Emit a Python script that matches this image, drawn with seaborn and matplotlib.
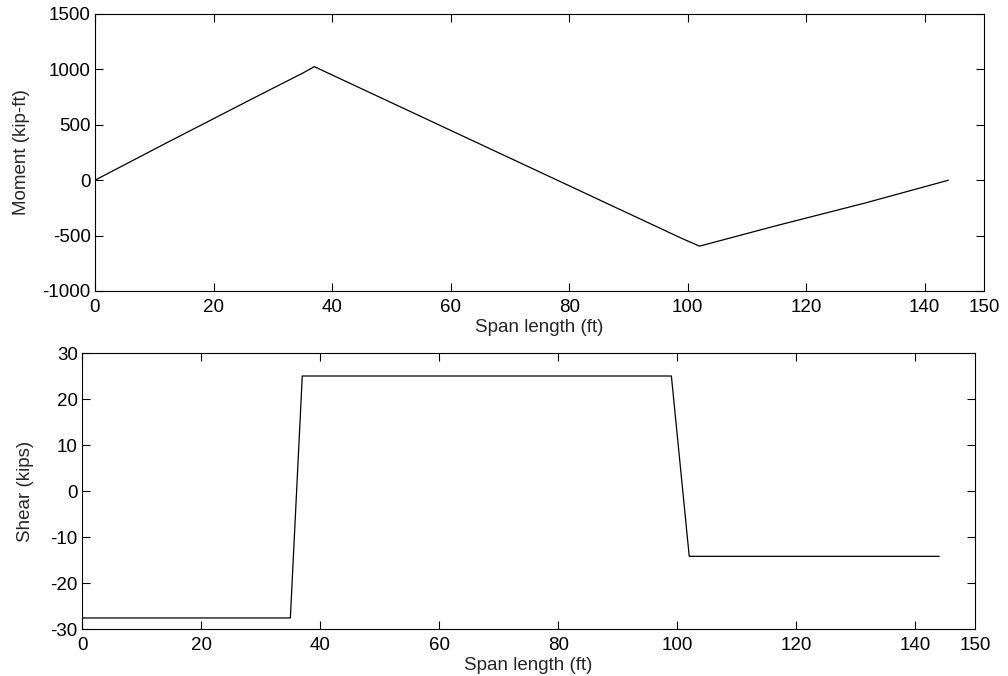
import matplotlib
matplotlib.use("Agg")
import matplotlib.pyplot as plt
import seaborn as sns
import pandas as pd

# moment diagram (kip-ft)
span_m = [0, 12, 20, 28, 35, 37, 60, 80, 99, 102, 115, 130, 144]
moment = [0, 335, 555, 775, 965, 1025, 450, -50, -525, -595, -410, -205, 0]

# shear diagram (kips)
span_v = [0, 35, 37, 99, 102, 144]
shear = [-27.6, -27.6, 25, 25, -14.2, -14.2]

x_ticks = [0, 20, 40, 60, 80, 100, 120, 140, 150]

df_m = pd.DataFrame({"x": span_m, "y": moment})
df_v = pd.DataFrame({"x": span_v, "y": shear})

sns.set_theme(style="ticks")
plt.rcParams['font.family'] = ['Liberation Sans', 'DejaVu Sans']
plt.rcParams['axes.unicode_minus'] = False
plt.rcParams['axes.linewidth'] = 0.8
plt.rcParams['xtick.direction'] = 'in'
plt.rcParams['ytick.direction'] = 'in'
plt.rcParams['xtick.major.size'] = 5.5
plt.rcParams['ytick.major.size'] = 5.5
plt.rcParams['xtick.major.width'] = 0.8
plt.rcParams['ytick.major.width'] = 0.8
plt.rcParams['xtick.top'] = True
plt.rcParams['ytick.right'] = True

fs = 13.5

fig = plt.figure(figsize=(10.08, 6.76), dpi=100)
ax1 = fig.add_axes([95/1008, 1-291/676, 889/1008, 277/676])
ax2 = fig.add_axes([82/1008, 1-629/676, 893/1008, 276/676])

sns.lineplot(data=df_m, x="x", y="y", ax=ax1, color="black", linewidth=0.9, estimator=None, sort=False)
ax1.set_xlim(0, 150)
ax1.set_ylim(-1000, 1500)
ax1.set_yticks(range(-1000, 1501, 500))
ax1.set_xlabel("Span length (ft)", fontsize=fs, labelpad=2)
ax1.set_ylabel("Moment (kip-ft)", fontsize=fs, labelpad=9)

sns.lineplot(data=df_v, x="x", y="y", ax=ax2, color="black", linewidth=0.9, estimator=None, sort=False)
ax2.set_xlim(0, 150)
ax2.set_ylim(-30, 30)
ax2.set_yticks(range(-30, 31, 10))
ax2.set_xlabel("Span length (ft)", fontsize=fs, labelpad=2)
ax2.set_ylabel("Shear (kips)", fontsize=fs, labelpad=12)

for ax in (ax1, ax2):
    ax.set_xticks(x_ticks)
    ax.set_xticklabels([str(t) for t in x_ticks])
    for s in ax.spines.values():
        s.set_visible(True)
        s.set_color("black")
    ax.tick_params(labelsize=fs, colors="black")
    ax.tick_params(axis="x", pad=6)
    ax.tick_params(axis="y", pad=3)
    # no tick marks drawn at the 150 edge in the reference
    ax.xaxis.get_major_ticks()[-1].tick1line.set_visible(False)
    ax.xaxis.get_major_ticks()[-1].tick2line.set_visible(False)

fig.savefig("out.png", dpi=100, facecolor="white")
